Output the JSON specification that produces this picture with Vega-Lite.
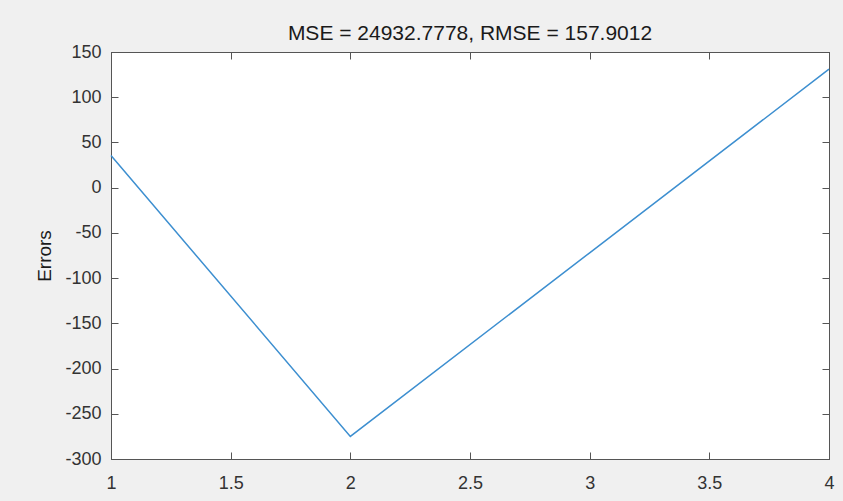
{
  "$schema": "https://vega.github.io/schema/vega-lite/v6.json",
  "autosize": "none",
  "width": 718,
  "height": 407,
  "padding": {"left": 111, "top": 52, "right": 14, "bottom": 42},
  "background": "#f0f0f0",
  "view": {"fill": "white", "stroke": "#555555", "strokeWidth": 1},
  "title": {"text": "MSE = 24932.7778, RMSE = 157.9012", "font": "Liberation Sans", "fontSize": 21, "fontWeight": "normal", "color": "#1a1a1a", "offset": -1},
  "config": {
    "axis": {"labelFont": "Liberation Sans", "titleFont": "Liberation Sans", "labelFontSize": 18, "labelColor": "#333333", "domainColor": "#555555", "tickColor": "#555555", "grid": false, "tickSize": -7, "labelFlush": false, "titleFontWeight": "normal", "titleFontSize": 19, "titleColor": "#1a1a1a", "labelExpr": "replace(datum.label, '−', '-')"}
  },
  "data": {"values": [
    {"x": 1, "err": 35.5},
    {"x": 2, "err": -275},
    {"x": 3, "err": -72},
    {"x": 4, "err": 131}
  ]},
  "layer": [
    {
      "mark": {"type": "line", "color": "#3d8fd0", "strokeWidth": 1.5},
      "encoding": {
        "x": {"field": "x", "type": "quantitative", "scale": {"domain": [1, 4], "nice": false, "zero": false}, "axis": {"title": null, "values": [1, 1.5, 2, 2.5, 3, 3.5, 4], "format": "~g", "labelPadding": 22}},
        "y": {"field": "err", "type": "quantitative", "scale": {"domain": [-300, 150], "nice": false, "zero": false}, "axis": {"title": "Errors", "values": [-300, -250, -200, -150, -100, -50, 0, 50, 100, 150], "labelPadding": 17, "titlePadding": 10}}
      }
    },
    {
      "mark": {"type": "line", "opacity": 0},
      "encoding": {
        "x": {"field": "x", "type": "quantitative", "scale": {"domain": [1, 4], "nice": false, "zero": false}, "axis": {"orient": "top", "title": null, "labels": false, "values": [1, 1.5, 2, 2.5, 3, 3.5, 4]}},
        "y": {"field": "err", "type": "quantitative", "scale": {"domain": [-300, 150], "nice": false, "zero": false}, "axis": {"orient": "right", "title": null, "labels": false, "values": [-300, -250, -200, -150, -100, -50, 0, 50, 100, 150]}}
      }
    }
  ],
  "resolve": {"axis": {"x": "independent", "y": "independent"}}
}
